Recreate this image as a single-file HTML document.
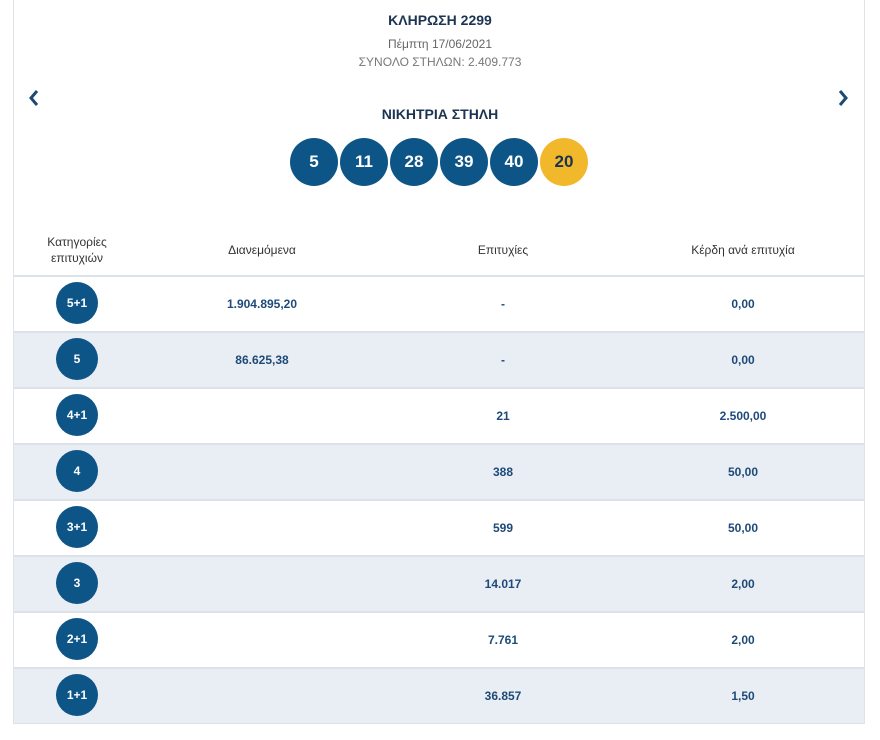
<!DOCTYPE html>
<html><head><meta charset="utf-8"><style>
*{margin:0;padding:0;box-sizing:border-box}
body{width:880px;height:740px;background:#fff;position:relative;font-family:"Liberation Sans",sans-serif;overflow:hidden}
.box{position:absolute;left:13px;top:-1px;width:852px;height:725px;border:1px solid #dfe3ea;border-top:none}
.t{position:absolute;width:100%;text-align:center;left:0}
.ball{position:absolute;width:48px;height:48px;border-radius:50%;background:#0e5587;color:#fff;font-weight:bold;font-size:17px;display:flex;align-items:center;justify-content:center;top:138px}
.row{position:absolute;left:14px;width:850px;height:56px;border-top:2px solid #dde1e8}
.alt{background:#e9edf4}
.c{position:absolute;width:42px;height:42px;border-radius:50%;background:#0e5587;color:#fff;font-weight:bold;font-size:12px;display:flex;align-items:center;justify-content:center;left:42px;top:5px}
.v{position:absolute;top:20px;font-size:12px;color:#1e4a78;font-weight:bold;text-align:center;width:200px}
.h{position:absolute;font-size:12px;color:#333;text-align:center;width:200px}
.arr{position:absolute;top:84px;font-size:26px;color:#1d4a73;font-weight:bold}
</style></head><body>
<div class="box"></div>
<div class="t" style="top:12px;font-size:14px;font-weight:bold;color:#1c3452">ΚΛΗΡΩΣΗ 2299</div>
<div class="t" style="top:37px;font-size:12px;color:#666">Πέμπτη 17/06/2021</div>
<div class="t" style="top:55px;font-size:12px;color:#777">ΣΥΝΟΛΟ ΣΤΗΛΩΝ: 2.409.773</div>
<div class="t" style="top:106px;font-size:14px;font-weight:bold;color:#1c3452">ΝΙΚΗΤΡΙΑ ΣΤΗΛΗ</div>
<svg style="position:absolute;left:27px;top:89px" width="14" height="18"><path d="M10 2 L4 9 L10 16" stroke="#1d4a73" stroke-width="3" fill="none"/></svg>
<svg style="position:absolute;left:836px;top:89px" width="14" height="18"><path d="M4 2 L10 9 L4 16" stroke="#1d4a73" stroke-width="3" fill="none"/></svg>
<div class="ball" style="left:290px">5</div>
<div class="ball" style="left:340px">11</div>
<div class="ball" style="left:390px">28</div>
<div class="ball" style="left:440px">39</div>
<div class="ball" style="left:490px">40</div>
<div class="ball" style="left:540px;background:#f1b82c;color:#1c3452">20</div>
<div class="h" style="left:-23px;top:234px;line-height:16px">Κατηγορίες<br>επιτυχιών</div>
<div class="h" style="left:162px;top:243px">Διανεμόμενα</div>
<div class="h" style="left:403px;top:243px">Επιτυχίες</div>
<div class="h" style="left:643px;top:243px">Κέρδη ανά επιτυχία</div>

<div class="row" style="top:275px"><div class="c">5+1</div><div class="v" style="left:148px">1.904.895,20</div><div class="v" style="left:389px">-</div><div class="v" style="left:629px">0,00</div></div>
<div class="row alt" style="top:331px"><div class="c">5</div><div class="v" style="left:148px">86.625,38</div><div class="v" style="left:389px">-</div><div class="v" style="left:629px">0,00</div></div>
<div class="row" style="top:387px"><div class="c">4+1</div><div class="v" style="left:389px">21</div><div class="v" style="left:629px">2.500,00</div></div>
<div class="row alt" style="top:443px"><div class="c">4</div><div class="v" style="left:389px">388</div><div class="v" style="left:629px">50,00</div></div>
<div class="row" style="top:499px"><div class="c">3+1</div><div class="v" style="left:389px">599</div><div class="v" style="left:629px">50,00</div></div>
<div class="row alt" style="top:555px"><div class="c">3</div><div class="v" style="left:389px">14.017</div><div class="v" style="left:629px">2,00</div></div>
<div class="row" style="top:611px"><div class="c">2+1</div><div class="v" style="left:389px">7.761</div><div class="v" style="left:629px">2,00</div></div>
<div class="row alt" style="top:667px;border-bottom:1px solid #dde1e8;height:57px"><div class="c">1+1</div><div class="v" style="left:389px">36.857</div><div class="v" style="left:629px">1,50</div></div>
</body></html>
